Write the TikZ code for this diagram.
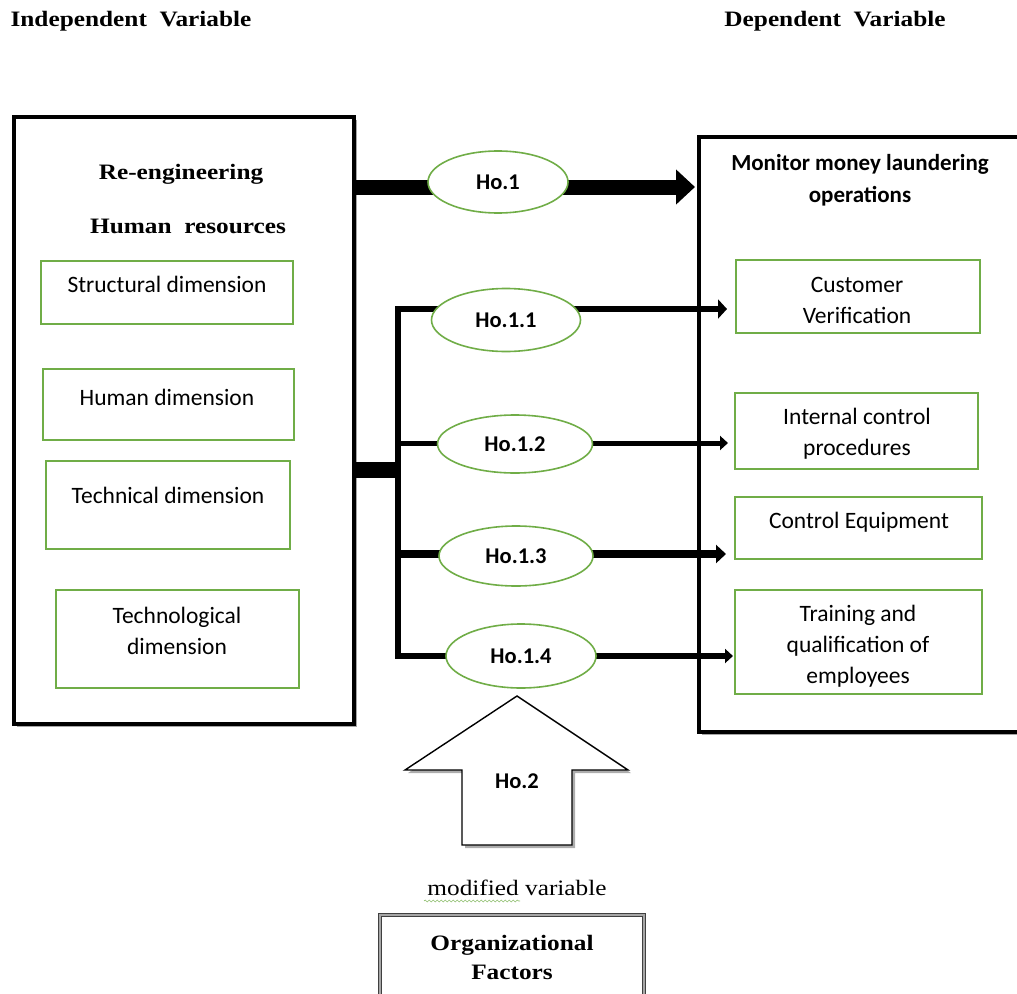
\documentclass[tikz,border=0pt]{standalone}
\usepackage{fontspec}
\setmainfont{Carlito}
\newfontfamily\serift[FakeStretch=1.15]{Liberation Serif}
\usetikzlibrary{arrows.meta,shapes.geometric,shadows,decorations.pathmorphing}
\definecolor{ogreen}{RGB}{112,173,71}
\begin{document}
\begin{tikzpicture}[x=1pt,y=-1pt,
  every node/.style={inner sep=0pt, outer sep=0pt},
  gbox/.style={draw=ogreen, line width=2pt, anchor=north west},
  bigbox/.style={draw=black, line width=4.5pt, fill=white, anchor=north west,
     drop shadow={shadow xshift=3pt, shadow yshift=-3pt, fill=black!35, opacity=1}},
  hyp/.style={ellipse, draw=ogreen, line width=1.6pt, fill=white,
     font=\fontsize{22.5}{26}\selectfont\bfseries},
  txt/.style={font=\fontsize{23.5}{31}\selectfont, align=center},
  hdtxt/.style={font=\fontsize{23}{32}\selectfont\bfseries, align=center},
  ttl/.style={font=\serift\fontsize{22}{29}\selectfont\bfseries, align=center},
  conn/.style={draw=black, line join=miter},
]
\useasboundingbox (0,0) rectangle (1017,993);

% titles
\node[ttl] (tiv) at (131,21) {Independent\ \ Variable};
\node[ttl] (tdv) at (835,21) {Dependent\ \ Variable};

% big boxes
\node[bigbox, minimum width=340pt, minimum height=607pt] (iv) at (14,117) {};
\node[bigbox, minimum width=420pt, minimum height=595pt] (dv) at (699,137) {};

% left box content
\node[ttl] (re) at (181,174) {Re-engineering};
\node[ttl] (hr) at (188,226) {Human\ \ resources};

\node[gbox, minimum width=252pt, minimum height=63pt] (sd) at (41,261) {};
\node[txt] (sdt) at (167,284) {Structural\ dimension};
\node[gbox, minimum width=251pt, minimum height=71pt] (hd) at (43,369) {};
\node[txt] (hdt) at (167,397) {Human\ dimension};
\node[gbox, minimum width=244pt, minimum height=88pt] (td) at (46,461) {};
\node[txt] (tdt) at (168,495) {Technical dimension};
\node[gbox, minimum width=243pt, minimum height=98pt] (tgd) at (56,590) {};
\node[txt] (tgdt) at (177,631) {Technological\\dimension};

% right box content
\node[hdtxt] (dvt) at (860,180) {Monitor money laundering\\operations};
\node[gbox, minimum width=244pt, minimum height=73pt] (cv) at (736,260) {};
\node[txt] (cvt) at (857,300) {Customer\\Verification};
\node[gbox, minimum width=243pt, minimum height=76pt] (icp) at (735,393) {};
\node[txt] (icpt) at (857,434) {Internal control\\procedures};
\node[gbox, minimum width=247pt, minimum height=62pt] (ce) at (735,497) {};
\node[txt] (cet) at (859,522) {Control Equipment};
\node[gbox, minimum width=247pt, minimum height=104pt] (tq) at (735,590) {};
\node[txt] (tqt) at (858,646) {Training\ and\\qualification\ of\\employees};

% connector coordinates
\coordinate (h1y) at (0,187);
\coordinate (bj) at (398,470);
\coordinate (b1) at (398,309);
\coordinate (b2) at (398,443);
\coordinate (b3) at (398,554);
\coordinate (b4) at (398,656);

% Ho.1 main arrow
\draw[conn, line width=15pt, -{Triangle[length=19pt,width=34pt]}, shorten >=4pt]
  (iv.east |- h1y) -- (dv.west |- h1y);
% junction stub
\draw[conn, line width=16pt] (iv.east |- bj) -- ([xshift=2.5pt]bj);
% bar + Ho.1.1
\draw[conn, line width=5.5pt, -{Triangle[length=9pt,width=19pt]}, shorten >=9pt]
  (b4) -- (b1) -- (b1 -| cv.west);
\draw[conn, line width=5pt, -{Triangle[length=8pt,width=14pt]}, shorten >=7pt]
  (b2) -- (b2 -| icp.west);
\draw[conn, line width=8pt, -{Triangle[length=10pt,width=18pt]}, shorten >=9pt]
  (b3) -- (b3 -| ce.west);
\draw[conn, line width=6pt, -{Triangle[length=8pt,width=14pt]}, shorten >=2pt]
  ([xshift=-3pt]b4) -- (b4 -| tq.west);

% hypothesis ellipses
\node[hyp, minimum width=140pt, minimum height=62pt] (ho1) at (498,182) {Ho.1};
\node[hyp, minimum width=149pt, minimum height=63pt] (ho11) at (506,320) {Ho.1.1};
\node[hyp, minimum width=155pt, minimum height=58pt] (ho12) at (515,444) {Ho.1.2};
\node[hyp, minimum width=154pt, minimum height=60pt] (ho13) at (516,556) {Ho.1.3};
\node[hyp, minimum width=150pt, minimum height=64pt] (ho14) at (521,656) {Ho.1.4};

% Ho.2 block arrow
\draw[draw=black, line width=1.4pt, fill=white, line join=miter,
      drop shadow={shadow xshift=3pt, shadow yshift=-3pt, fill=black!40, opacity=0.8}]
  (517,696) -- (628,770) -- (572,770) -- (572,845) -- (462,845) -- (462,770) -- (405,770) -- cycle;
\node[font=\fontsize{22.5}{26}\selectfont\bfseries] (ho2) at (517,781) {Ho.2};

% modifier
\node[font=\serift\fontsize{22}{26}\selectfont] (mv) at (517,888) {modified variable};
\draw[ogreen!80, line width=0.6pt, decorate, decoration={snake, amplitude=1pt, segment length=4pt}]
  (424,901) -- (520,901);
\node[draw=black!75, line width=0.8pt, double=black!35, double distance=1.6pt,
      anchor=north west, minimum width=264pt, minimum height=140pt] (of) at (380,915) {};
\node[ttl] (oft) at (512,957) {Organizational\\Factors};
\end{tikzpicture}
\end{document}
